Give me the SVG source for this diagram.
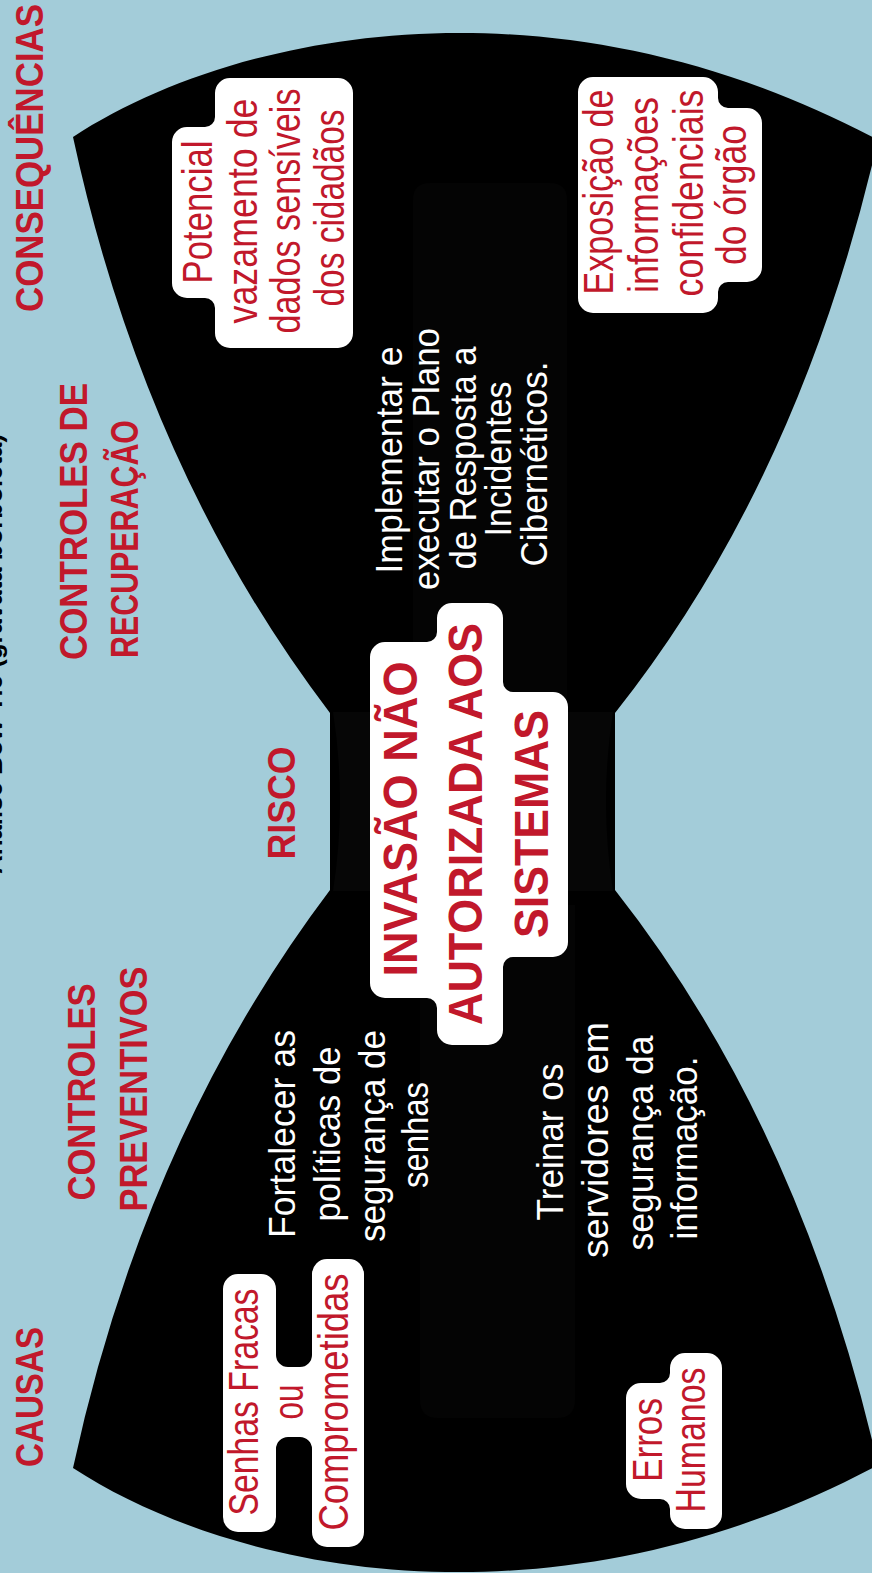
<svg xmlns="http://www.w3.org/2000/svg" width="872" height="1573" viewBox="0 0 872 1573">
  <style>
    text { font-family: "Liberation Sans", Arial, sans-serif; text-anchor: middle; }
    .title { font-size: 26px; font-weight: 700; fill: #000; }
    .hd { font-size: 39px; font-weight: 700; fill: #c1182b; }
    .hd-start { text-anchor: start; }
    .risk { font-size: 48px; font-weight: 700; fill: #c1182b; }
    .rt { font-size: 42px; fill: #c1182b; }
    .wt { font-size: 36px; fill: #ffffff; }
    .box { fill: #ffffff; }
    .ghost { fill: #040404; }
  </style>

  <!-- background -->
  <rect x="0" y="0" width="872" height="1573" fill="#a3ccd9"/>

  <!-- bow-tie body -->
  <g id="bowtie">
    <path fill="#000000" d="M73,137 C240,28 560,-30 878,140 Q800,480 615,713 L615,890 Q800,1125 878,1465 C560,1635 240,1577 73,1468 Q145,1135 330,890 L330,713 Q145,470 73,137 Z"/>
    <!-- faint inner layers -->
    <path class="ghost" d="M413,200 Q413,183 430,183 L550,183 Q567,183 567,200 L567,700 L413,700 Z"/>
    <path class="ghost" d="M420,905 L575,905 L575,1400 Q575,1418 557,1418 L438,1418 Q420,1418 420,1400 Z"/>
    <!-- knot -->
    <path fill="#060606" d="M333,712 L613,712 Q599,801 613,891 L333,891 Q347,801 333,712 Z"/>
  </g>

  <!-- title, running off the left edge -->
  <g id="title">
    <text class="title" transform="translate(2,654) rotate(-90)" textLength="440" lengthAdjust="spacingAndGlyphs">Análise Bow-Tie (gravata borboleta)</text>
  </g>

  <!-- column headings -->
  <g id="headings">
    <text class="hd" transform="translate(43,158) rotate(-90)" textLength="308" lengthAdjust="spacingAndGlyphs">CONSEQUÊNCIAS</text>
    <text class="hd hd-start" transform="translate(87,660) rotate(-90)" textLength="277" lengthAdjust="spacingAndGlyphs">CONTROLES DE</text>
    <text class="hd hd-start" transform="translate(138,658) rotate(-90)" textLength="238" lengthAdjust="spacingAndGlyphs">RECUPERAÇÃO</text>
    <text class="hd" transform="translate(295,803) rotate(-90)" textLength="113" lengthAdjust="spacingAndGlyphs">RISCO</text>
    <text class="hd" transform="translate(95,1092) rotate(-90)" textLength="217" lengthAdjust="spacingAndGlyphs">CONTROLES</text>
    <text class="hd" transform="translate(147,1089) rotate(-90)" textLength="245" lengthAdjust="spacingAndGlyphs">PREVENTIVOS</text>
    <text class="hd" transform="translate(43,1397) rotate(-90)" textLength="140" lengthAdjust="spacingAndGlyphs">CAUSAS</text>
  </g>

  <!-- consequence: data leak -->
  <g id="cons-vazamento">
    <path class="box" d="M172,283 V142 A15 15 0 0 1 187,127 H205 A10 10 0 0 0 215,117 V93 A15 15 0 0 1 230,78 H338 A15 15 0 0 1 353,93 V333 A15 15 0 0 1 338,348 H230 A15 15 0 0 1 215,333 V308 A10 10 0 0 0 205,298 H187 A15 15 0 0 1 172,283 Z"/>
    <text class="rt" transform="translate(212,212) rotate(-90)" textLength="143" lengthAdjust="spacingAndGlyphs">Potencial</text>
    <text class="rt" transform="translate(257,211) rotate(-90)" textLength="225" lengthAdjust="spacingAndGlyphs">vazamento de</text>
    <text class="rt" transform="translate(300,211) rotate(-90)" textLength="245" lengthAdjust="spacingAndGlyphs">dados sensíveis</text>
    <text class="rt" transform="translate(344,208) rotate(-90)" textLength="197" lengthAdjust="spacingAndGlyphs">dos cidadãos</text>
  </g>

  <!-- consequence: exposure -->
  <g id="cons-exposicao">
    <path class="box" d="M578,92 A15 15 0 0 1 593,77 H703 A15 15 0 0 1 718,92 V98 A10 10 0 0 0 728,108 H747 A15 15 0 0 1 762,123 V267 A15 15 0 0 1 747,282 H728 A10 10 0 0 0 718,292 V298 A15 15 0 0 1 703,313 H593 A15 15 0 0 1 578,298 Z"/>
    <text class="rt" transform="translate(613,192) rotate(-90)" textLength="205" lengthAdjust="spacingAndGlyphs">Exposição de</text>
    <text class="rt" transform="translate(658,195) rotate(-90)" textLength="196" lengthAdjust="spacingAndGlyphs">informações</text>
    <text class="rt" transform="translate(703,193) rotate(-90)" textLength="207" lengthAdjust="spacingAndGlyphs">confidenciais</text>
    <text class="rt" transform="translate(746,195) rotate(-90)" textLength="140" lengthAdjust="spacingAndGlyphs">do órgão</text>
  </g>

  <!-- recovery control -->
  <g id="ctrl-recuperacao">
    <text class="wt" transform="translate(402,460) rotate(-90)" textLength="227" lengthAdjust="spacingAndGlyphs">Implementar e</text>
    <text class="wt" transform="translate(439,459) rotate(-90)" textLength="262" lengthAdjust="spacingAndGlyphs">executar o Plano</text>
    <text class="wt" transform="translate(476,458) rotate(-90)" textLength="223" lengthAdjust="spacingAndGlyphs">de Resposta a</text>
    <text class="wt" transform="translate(511,459) rotate(-90)" textLength="155" lengthAdjust="spacingAndGlyphs">Incidentes</text>
    <text class="wt" transform="translate(547,464) rotate(-90)" textLength="205" lengthAdjust="spacingAndGlyphs">Cibernéticos.</text>
  </g>

  <!-- central risk -->
  <g id="risco">
    <path class="box" d="M370,983 V657 A15 15 0 0 1 385,642 H427 A10 10 0 0 0 437,632 V618 A15 15 0 0 1 452,603 H488 A15 15 0 0 1 503,618 V682 A10 10 0 0 0 513,692 H553 A15 15 0 0 1 568,707 V942 A15 15 0 0 1 553,957 H513 A10 10 0 0 0 503,967 V1030 A15 15 0 0 1 488,1045 H452 A15 15 0 0 1 437,1030 V1008 A10 10 0 0 0 427,998 H385 A15 15 0 0 1 370,983 Z"/>
    <text class="risk" transform="translate(417,819) rotate(-90)" textLength="315" lengthAdjust="spacingAndGlyphs">INVASÃO NÃO</text>
    <text class="risk" transform="translate(482,824) rotate(-90)" textLength="402" lengthAdjust="spacingAndGlyphs">AUTORIZADA AOS</text>
    <text class="risk" transform="translate(548,824) rotate(-90)" textLength="228" lengthAdjust="spacingAndGlyphs">SISTEMAS</text>
  </g>

  <!-- preventive controls -->
  <g id="ctrl-senhas">
    <text class="wt" transform="translate(295,1134) rotate(-90)" textLength="208" lengthAdjust="spacingAndGlyphs">Fortalecer as</text>
    <text class="wt" transform="translate(340,1134) rotate(-90)" textLength="175" lengthAdjust="spacingAndGlyphs">políticas de</text>
    <text class="wt" transform="translate(385,1136) rotate(-90)" textLength="212" lengthAdjust="spacingAndGlyphs">segurança de</text>
    <text class="wt" transform="translate(428,1135) rotate(-90)" textLength="106" lengthAdjust="spacingAndGlyphs">senhas</text>
  </g>
  <g id="ctrl-treinamento">
    <text class="wt" transform="translate(563,1142) rotate(-90)" textLength="157" lengthAdjust="spacingAndGlyphs">Treinar os</text>
    <text class="wt" transform="translate(608,1140) rotate(-90)" textLength="236" lengthAdjust="spacingAndGlyphs">servidores  em</text>
    <text class="wt" transform="translate(653,1143) rotate(-90)" textLength="215" lengthAdjust="spacingAndGlyphs">segurança da</text>
    <text class="wt" transform="translate(697,1148) rotate(-90)" textLength="183" lengthAdjust="spacingAndGlyphs">informação.</text>
  </g>

  <!-- causes -->
  <g id="causa-senhas">
    <path class="box" d="M223,1517 V1289 A15 15 0 0 1 238,1274 H261 A15 15 0 0 1 276,1289 V1355 A12 12 0 0 0 288,1367 H300 A12 12 0 0 0 312,1355 V1274 A15 15 0 0 1 327,1259 H349 A15 15 0 0 1 364,1274 V1532 A15 15 0 0 1 349,1547 H327 A15 15 0 0 1 312,1532 V1449 A12 12 0 0 0 300,1437 H288 A12 12 0 0 0 276,1449 V1517 A15 15 0 0 1 261,1532 H238 A15 15 0 0 1 223,1517 Z"/>
    <text class="rt" transform="translate(258,1402) rotate(-90)" textLength="227" lengthAdjust="spacingAndGlyphs">Senhas Fracas</text>
    <text class="rt" transform="translate(303,1402) rotate(-90)" textLength="35" lengthAdjust="spacingAndGlyphs">ou</text>
    <text class="rt" transform="translate(348,1402) rotate(-90)" textLength="257" lengthAdjust="spacingAndGlyphs">Comprometidas</text>
  </g>
  <g id="causa-erros">
    <path class="box" d="M626,1484 V1398 A15 15 0 0 1 641,1383 H660 A10 10 0 0 0 670,1373 V1368 A15 15 0 0 1 685,1353 H707 A15 15 0 0 1 722,1368 V1514 A15 15 0 0 1 707,1529 H685 A15 15 0 0 1 670,1514 V1509 A10 10 0 0 0 660,1499 H641 A15 15 0 0 1 626,1484 Z"/>
    <text class="rt" transform="translate(662,1440) rotate(-90)" textLength="84" lengthAdjust="spacingAndGlyphs">Erros</text>
    <text class="rt" transform="translate(705,1440) rotate(-90)" textLength="145" lengthAdjust="spacingAndGlyphs">Humanos</text>
  </g>
</svg>
